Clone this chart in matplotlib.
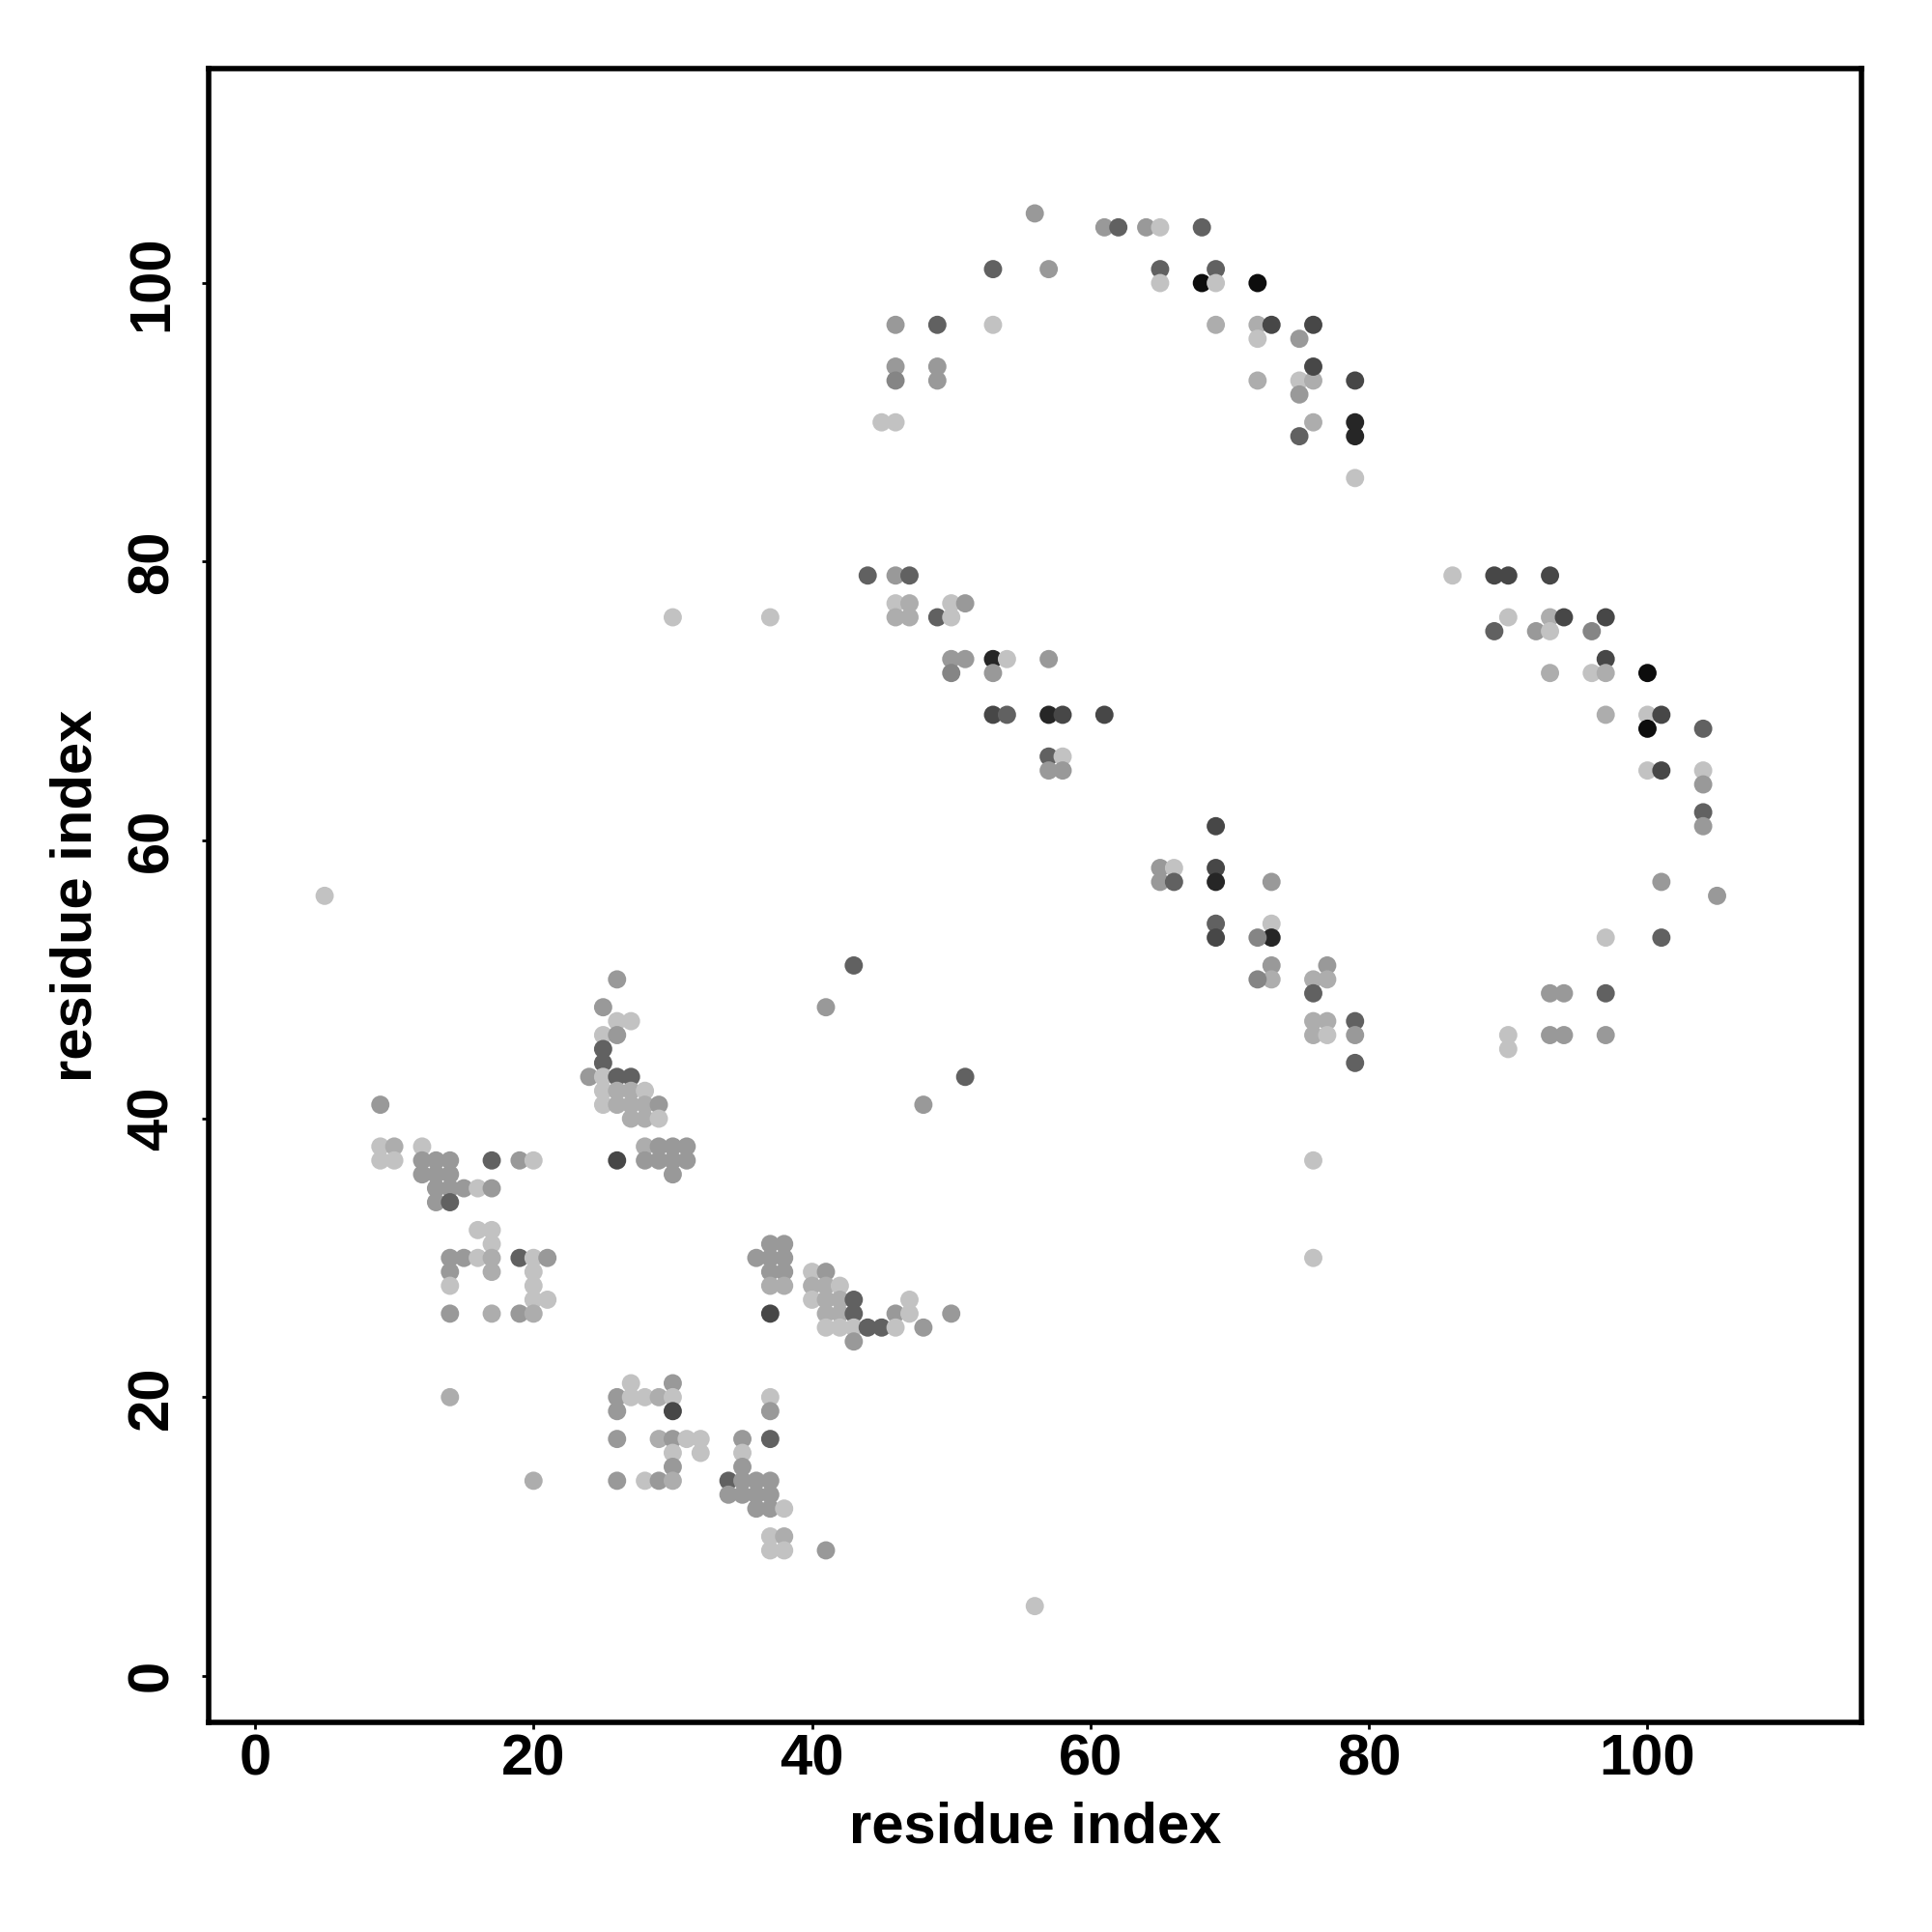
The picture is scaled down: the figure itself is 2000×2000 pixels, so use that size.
import numpy as np
from matplotlib import pyplot as plt

#---------------------------------DATA------------------------------------------------------------------
# contact pairs (residue i, residue j) and grey level of each point (0 = black, 1 = white)
L, LM, M, MD, D, VD, K2, K = 0.76, 0.68, 0.60, 0.52, 0.38, 0.28, 0.15, 0.05

scattered = [(5, 56, L), (30, 76, L), (37, 76, L), (41, 48, M), (43, 51, D), (48, 41, M),
             (51, 43, D), (56, 5, L), (76, 37, L), (76, 30, L), (20, 14, LM), (14, 20, LM),
             (41, 9, M)]

upper_arc = [(56, 105, M), (61, 104, M), (62, 104, D), (64, 104, M), (65, 104, L), (68, 104, D),
             (53, 101, D), (57, 101, M), (65, 101, D), (69, 101, D), (65, 100, L), (68, 100, K),
             (69, 100, L), (72, 100, K), (46, 97, M), (49, 97, D), (53, 97, L), (69, 97, LM),
             (72, 97, LM), (73, 97, VD), (72, 96, L), (75, 96, M), (76, 97, VD), (46, 94, M),
             (46, 93, MD), (49, 94, M), (49, 93, M), (72, 93, LM), (75, 93, L), (76, 93, LM),
             (76, 94, VD), (75, 92, M), (79, 93, VD), (45, 90, L), (46, 90, L), (76, 90, LM),
             (75, 89, D), (79, 90, K2), (79, 89, K2), (79, 86, L)]

middle = [(44, 79, D), (46, 79, M), (47, 79, D), (46, 77, L), (47, 77, LM), (46, 76, LM),
          (47, 76, LM), (49, 76, D), (50, 77, L), (50, 76, L), (51, 77, M), (50, 73, M),
          (51, 73, M), (50, 72, MD), (53, 73, K2), (54, 73, L), (53, 72, M), (57, 73, M),
          (53, 69, VD), (54, 69, D), (57, 69, K2), (58, 69, VD), (61, 69, VD), (57, 66, D),
          (58, 66, L), (57, 65, M), (58, 65, M)]

middle_low = [(69, 61, VD), (65, 58, M), (66, 58, L), (65, 57, M), (66, 57, D), (69, 58, VD),
              (69, 57, K2), (73, 57, M), (69, 54, D), (69, 53, VD), (73, 54, L), (73, 53, K2),
              (72, 53, MD), (73, 51, M), (73, 50, LM), (72, 50, MD), (77, 51, M), (76, 50, LM),
              (77, 50, LM), (76, 49, D), (76, 47, LM), (77, 47, LM), (76, 46, LM), (77, 46, L),
              (79, 47, D), (79, 46, M), (79, 44, D)]

right = [(86, 79, L), (89, 79, VD), (90, 79, VD), (93, 79, VD), (90, 76, L), (89, 75, D),
         (92, 75, M), (93, 76, LM), (93, 75, L), (94, 76, VD), (96, 75, MD), (97, 76, VD),
         (97, 73, VD), (96, 72, L), (97, 72, LM), (93, 72, LM), (100, 72, K), (97, 69, LM),
         (100, 69, L), (101, 69, VD), (100, 68, K), (104, 68, D), (100, 65, L), (101, 65, VD),
         (104, 65, L), (104, 64, M), (104, 62, D), (104, 61, M), (101, 57, M), (105, 56, M),
         (97, 53, L), (101, 53, D), (93, 49, M), (94, 49, M), (97, 49, D), (90, 46, L),
         (90, 45, L), (93, 46, M), (94, 46, M), (97, 46, M)]

low_left_a = [(26, 50, M), (25, 48, M), (26, 47, L), (27, 47, L), (25, 46, L), (26, 46, M),
              (25, 45, D), (25, 44, D), (24, 43, M), (25, 43, L), (26, 43, D), (27, 43, D),
              (25, 42, L), (26, 42, LM), (27, 42, LM), (28, 42, L),
              (25, 41, L), (26, 41, LM), (27, 41, LM), (28, 41, LM), (29, 41, M),
              (27, 40, LM), (28, 40, LM), (29, 40, L), (9, 41, M),
              (9, 38, L), (10, 38, LM), (9, 37, L), (10, 37, L), (12, 38, L),
              (12, 37, M), (13, 37, M), (14, 37, M), (12, 36, M), (13, 36, M), (14, 36, M),
              (13, 35, M), (14, 35, M), (15, 35, M), (16, 35, L), (17, 35, M),
              (13, 34, M), (14, 34, D), (17, 37, D), (19, 37, M), (20, 37, L), (26, 37, VD),
              (28, 38, LM), (29, 38, M), (30, 38, M), (31, 38, M),
              (28, 37, M), (29, 37, M), (30, 37, M), (31, 37, M), (30, 36, M)]

low_left_b = [(16, 32, L), (17, 32, L), (17, 31, L), (14, 30, M), (15, 30, M), (16, 30, L),
              (17, 30, LM), (19, 30, D), (20, 30, L), (21, 30, M), (14, 29, M), (17, 29, LM),
              (20, 29, L), (14, 28, L), (20, 28, L), (20, 27, L), (21, 27, L),
              (14, 26, M), (17, 26, LM), (19, 26, M), (20, 26, LM),
              (27, 21, L), (30, 21, M), (26, 20, M), (27, 20, L), (28, 20, L), (29, 20, LM),
              (30, 20, L), (26, 19, M), (30, 19, VD),
              (26, 17, M), (29, 17, LM), (30, 17, M), (31, 17, L), (32, 17, L),
              (30, 16, L), (32, 16, L), (30, 15, M),
              (26, 14, M), (28, 14, L), (29, 14, M), (30, 14, LM)]

low_mid = [(37, 31, M), (38, 31, M), (36, 30, M), (37, 30, M), (38, 30, M), (37, 29, M),
           (38, 29, M), (37, 28, LM), (38, 28, LM), (37, 26, VD),
           (40, 29, L), (41, 29, M), (40, 28, LM), (41, 28, LM), (42, 28, L),
           (40, 27, L), (41, 27, LM), (42, 27, LM), (43, 27, D),
           (41, 26, LM), (42, 26, LM), (43, 26, D), (41, 25, L), (42, 25, L), (43, 25, L),
           (44, 25, D), (45, 25, D), (46, 26, M), (46, 25, L), (47, 27, L), (47, 26, L),
           (48, 25, M), (50, 26, M), (43, 24, M),
           (37, 20, L), (37, 19, M), (35, 17, M), (37, 17, D), (35, 16, L), (35, 15, M),
           (34, 14, D), (35, 14, M), (36, 14, M), (37, 14, M),
           (34, 13, M), (35, 13, M), (36, 13, M), (37, 13, M),
           (36, 12, M), (37, 12, M), (38, 12, L),
           (37, 10, L), (38, 10, LM), (37, 9, L), (38, 9, L)]

contacts = scattered + upper_arc + middle + middle_low + right + low_left_a + low_left_b + low_mid
res_i = np.array([c[0] for c in contacts])
res_j = np.array([c[1] for c in contacts])
grey = [str(c[2]) for c in contacts]

ticks = [0, 20, 40, 60, 80, 100]

#---------------------------------PLOT------------------------------------------------------------------
plt.rcParams['font.family'] = ['Liberation Sans', 'DejaVu Sans']
plt.rcParams['font.weight'] = 'bold'

fig = plt.figure(figsize=(20, 20), dpi=100)
ax = fig.add_axes([0.108, 0.1085, 0.8555, 0.856])
ax.scatter(res_i, res_j, c=grey, s=185, linewidths=0)

ax.set_xlim(-3.33, 115.37)
ax.set_ylim(-3.35, 115.4)
ax.set_xticks(ticks)
ax.set_yticks(ticks)
ax.set_yticklabels([str(t) for t in ticks], rotation=90, va='center')
ax.tick_params(axis='both', direction='out', length=5, width=2, labelsize=43)
ax.tick_params(axis='x', pad=3)
ax.tick_params(axis='y', pad=17)
for sp in ax.spines.values():
    sp.set_linewidth(4)

ax.set_xlabel('residue index', fontsize=43, fontweight='bold', va='center')
ax.set_ylabel('residue index', fontsize=43, fontweight='bold', va='center')
ax.xaxis.set_label_coords(0.5, -0.0637)
ax.yaxis.set_label_coords(-0.080, 0.5)

fig.savefig('out.png', dpi=100)
